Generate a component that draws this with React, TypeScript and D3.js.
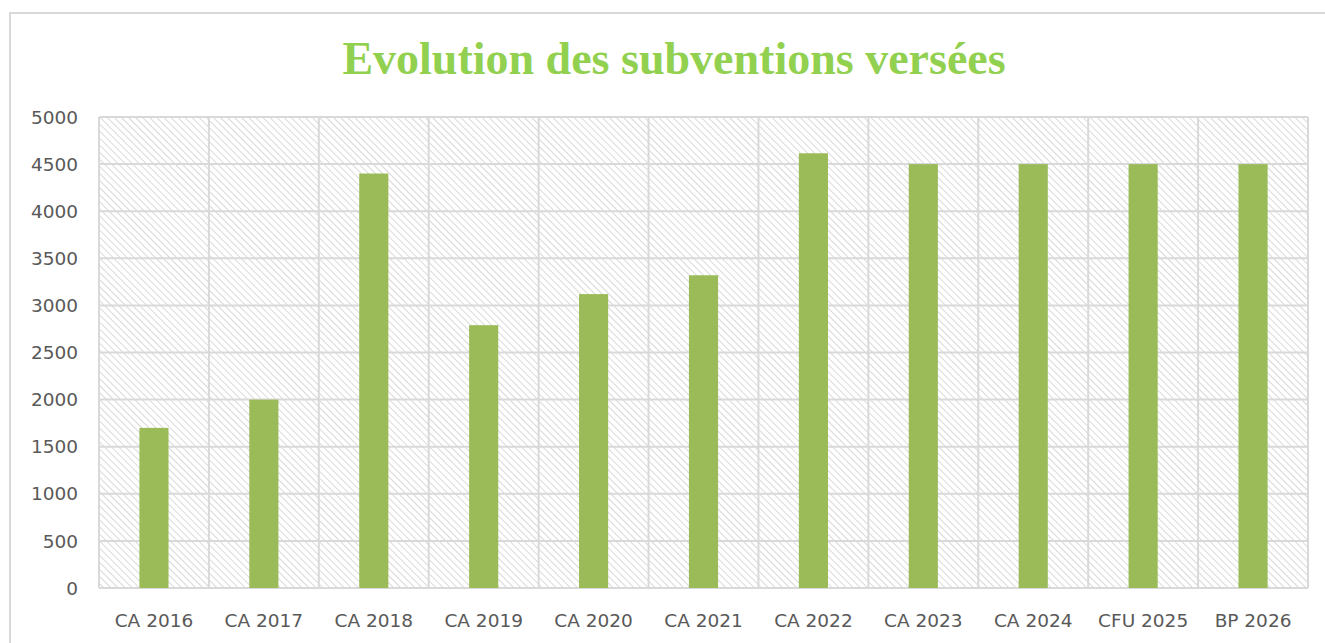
import React, { useEffect, useRef } from 'react';
import * as d3 from 'd3';

const categories = ['CA 2016', 'CA 2017', 'CA 2018', 'CA 2019', 'CA 2020', 'CA 2021', 'CA 2022', 'CA 2023', 'CA 2024', 'CFU 2025', 'BP 2026'];
const values = [1700, 2000, 4400, 2790, 3120, 3320, 4615, 4500, 4500, 4500, 4500];
const yTicks = [0, 500, 1000, 1500, 2000, 2500, 3000, 3500, 4000, 4500, 5000];
const title = 'Evolution des subventions versées';

const App: React.FC = () => {
  const svgRef = useRef<SVGSVGElement>(null);

  useEffect(() => {
    if (!svgRef.current) return;
    const svg = d3.select(svgRef.current);
    svg.selectAll('*').remove();

    const W = 1325;
    const H = 643;
    const margin = { top: 117, right: 17, bottom: 55, left: 99 };
    const width = W - margin.left - margin.right;
    const height = H - margin.top - margin.bottom;

    svg.attr('width', W).attr('height', H);

    // hatch pattern for the plot area (downward diagonal)
    const defs = svg.append('defs');
    const pat = defs.append('pattern')
      .attr('id', 'hatch')
      .attr('patternUnits', 'userSpaceOnUse')
      .attr('width', 5)
      .attr('height', 5)
      .attr('patternTransform', 'rotate(-45)');
    pat.append('rect').attr('width', 5).attr('height', 5).attr('fill', '#ffffff');
    pat.append('line')
      .attr('x1', 0).attr('y1', 0).attr('x2', 0).attr('y2', 5)
      .attr('stroke', '#d9d9d9')
      .attr('stroke-width', 2);

    // chart frame
    svg.append('rect')
      .attr('x', 10).attr('y', 13)
      .attr('width', W).attr('height', H)
      .attr('fill', '#ffffff')
      .attr('stroke', '#d9d9d9')
      .attr('stroke-width', 2);

    svg.append('text')
      .attr('x', 674)
      .attr('y', 74)
      .attr('text-anchor', 'middle')
      .attr('font-family', 'Liberation Serif, serif')
      .attr('font-weight', 'bold')
      .attr('font-size', 46)
      .attr('fill', '#92d050')
      .text(title);

    const g = svg.append('g').attr('transform', `translate(${margin.left},${margin.top})`);

    const x = d3.scaleBand<string>().domain(categories).range([0, width]).paddingInner(0.735).paddingOuter(0.3675);
    const xCat = d3.scaleBand<string>().domain(categories).range([0, width]);
    const y = d3.scaleLinear().domain([0, 5000]).range([height, 0]);

    g.append('rect')
      .attr('width', width)
      .attr('height', height)
      .attr('fill', 'url(#hatch)');

    // horizontal grid
    g.selectAll('.gy')
      .data(yTicks)
      .enter().append('line')
      .attr('x1', 0).attr('x2', width)
      .attr('y1', d => y(d)).attr('y2', d => y(d))
      .attr('stroke', '#d9d9d9')
      .attr('stroke-width', 2);

    // vertical grid between categories
    const edges = categories.map(c => xCat(c) as number).concat([width]);
    g.selectAll('.gx')
      .data(edges)
      .enter().append('line')
      .attr('x1', d => d).attr('x2', d => d)
      .attr('y1', 0).attr('y2', height)
      .attr('stroke', '#d9d9d9')
      .attr('stroke-width', 2);

    // bars
    g.selectAll('.bar')
      .data(values)
      .enter().append('rect')
      .attr('x', (d, i) => x(categories[i]) as number)
      .attr('y', d => y(d))
      .attr('width', x.bandwidth())
      .attr('height', d => height - y(d))
      .attr('fill', '#9bbb59');

    // y labels
    g.selectAll('.yl')
      .data(yTicks)
      .enter().append('text')
      .attr('x', -21)
      .attr('y', d => y(d))
      .attr('dy', '0.36em')
      .attr('text-anchor', 'end')
      .attr('font-family', 'DejaVu Sans, sans-serif')
      .attr('font-size', 18.5)
      .attr('fill', '#595959')
      .text(d => String(d));

    // x labels
    g.selectAll('.xl')
      .data(categories)
      .enter().append('text')
      .attr('x', d => (xCat(d) as number) + xCat.bandwidth() / 2)
      .attr('y', height + 39)
      .attr('text-anchor', 'middle')
      .attr('font-family', 'DejaVu Sans, sans-serif')
      .attr('font-size', 18.5)
      .attr('fill', '#595959')
      .text(d => d);
  }, []);

  return (
    <svg ref={svgRef} style={{ position: 'absolute', left: 0, top: 0, display: 'block' }}></svg>
  );
};

export default App;
